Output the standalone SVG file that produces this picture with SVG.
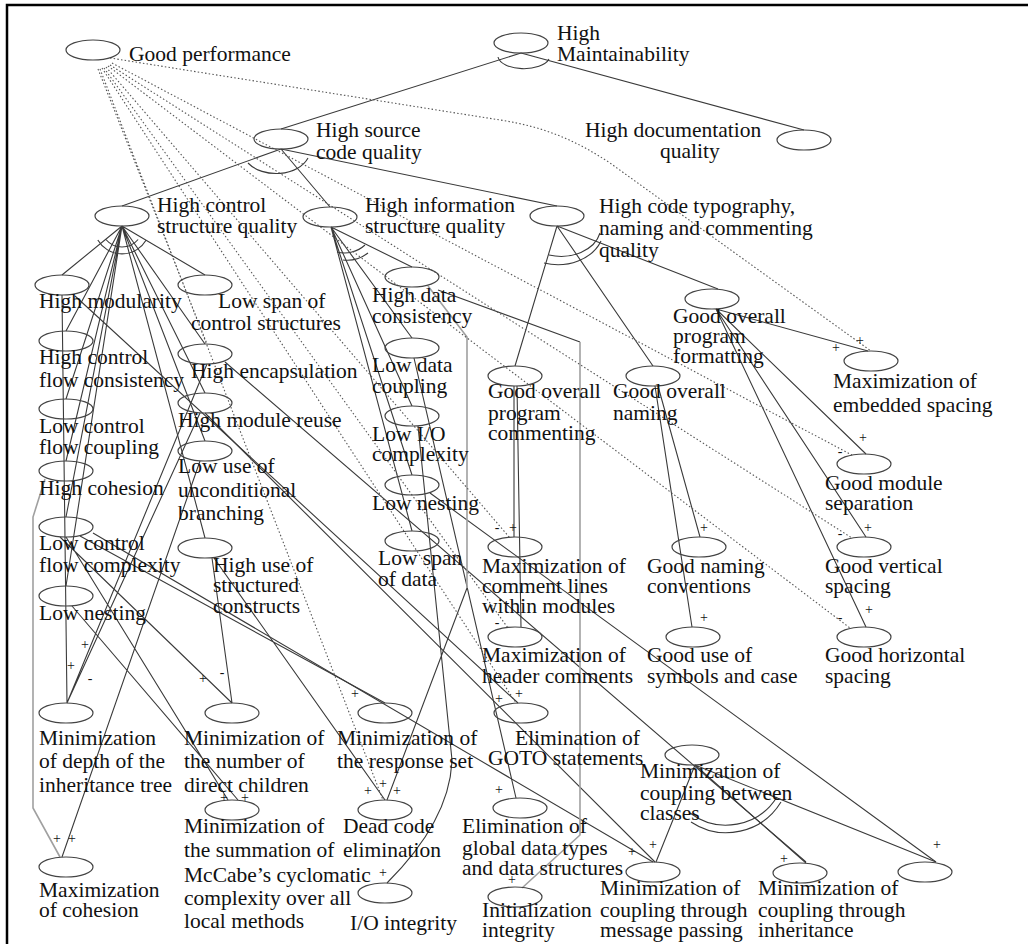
<svg xmlns="http://www.w3.org/2000/svg" width="1028" height="944" viewBox="0 0 1028 944">
<style>
.n ellipse{fill:none;stroke:#444;stroke-width:1.2}
text{font-family:"Liberation Serif","Times New Roman",serif;font-size:21.5px;fill:#111}
.s{font-size:14px;text-anchor:middle}
.e{stroke:#3a3a3a;stroke-width:1.1;fill:none}
.g{stroke:#a0a0a0;stroke-width:1.6;fill:none}
.d{stroke:#555;stroke-width:1.1;stroke-dasharray:1.5 2.2;fill:none}
</style>
<rect x="0" y="0" width="1028" height="944" fill="#fff"/>
<path d="M7,944 L7,5 L1028,5" fill="none" stroke="#000" stroke-width="2.5"/>
<g id="connectors">
<g class="e">
<path d="M521,53 L281,129 M521,53 L804,130 M281,149 L122,206 M281,149 L330,207 M281,149 L557,206"/>
<path d="M122,226 L62,275 M122,226 L205,275 M122,226 L66,331 M122,226 L205,344 M122,226 L66,399 M122,226 L205,393 M122,226 L66,461 M122,226 L205,441 M122,226 L66,517 M122,226 L205,538 M122,226 L66,586"/>
<path d="M331,227 L412,267 M331,227 L412,338 M331,227 L412,406 M331,227 L412,475 M331,227 L412,531"/>
<path d="M557,226 L515,366 M557,226 L653,366 M557,226 L718,289"/>
<path d="M716,309 L868,351 M716,309 L866,454 M716,309 L866,537 M716,309 L866,627"/>
<path d="M514,386 L514,537 M517,386 L521,627 M658,386 L700,537 M655,386 L692,627"/>
<path d="M695,765 L656,862 M695,765 L806,863 M695,765 L936,862"/>
<path d="M498,57 A26 13 0 0 0 549,59"/>
<path d="M248,163 A34 24 0 0 0 308,158"/>
<path d="M105.9,239.5 A21 21 0 0 0 138.1,239.5 M97.8,240 A28 28 0 0 0 146.2,240"/>
<path d="M337,252 A30 30 0 0 0 365,245 M343,260 A34 34 0 0 0 368,253"/>
<path d="M549,255 A40 30 0 0 0 600,233 M544,263 A46 36 0 0 0 601,241"/>
<path d="M690,813 A60 60 0 0 0 777,797 M691,822 A64 64 0 0 0 781,802"/>
<path d="M62,295 L67,703 M207,364 L67,703 M200,413 L67,703 M60,537 L232,703 M212,558 L232,703 M80,536 L385,703 M66,537 L228,800 M72,606 L238,800 M214,558 L385,800 M75,296 L518,703 M200,461 L62,857"/>
<path d="M467,588 L387,800 M418,426 L452,760 Q450,820 387,883 M414,358 L516,798 M438,290 L580,342"/>
<path d="M225,362 L806,862 M205,413 L655,862 M93,533 L653,862 M430,493 L936,862"/>
</g>
<g class="g">
<path d="M45,479 L33,517 L33,808 L60,857"/>
<path d="M428,286 L467,337 L467,588"/>
<path d="M580,342 L580,835 L522,888"/>
</g>
<g class="d">
<path d="M110,58 L500,120 C545,127 575,140 610,163 L871,351"/>
<path d="M112,63 L852,455 M110,65 L852,538 M108,66 L850,628 M106,67 L510,538 M104,68 L508,628 M102,68 L516,703 M100,69 L383,800 M98,69 L207,344"/>
</g>
<g id="signs">
<text class="s" x="836" y="352">+</text><text class="s" x="860" y="345">+</text>
<text class="s" x="840" y="456">-</text><text class="s" x="863" y="442">+</text>
<text class="s" x="840" y="538">-</text><text class="s" x="868" y="532">+</text>
<text class="s" x="840" y="622">-</text><text class="s" x="869" y="614">+</text>
<text class="s" x="497" y="532">-</text><text class="s" x="513" y="532">+</text>
<text class="s" x="704" y="532">+</text>
<text class="s" x="704" y="622">+</text>
<text class="s" x="497" y="627">-</text>
<text class="s" x="499" y="703">+</text><text class="s" x="519" y="698">+</text>
<text class="s" x="499" y="794">+</text>
<text class="s" x="512" y="884">+</text>
<text class="s" x="653" y="849">+</text><text class="s" x="632" y="856">+</text>
<text class="s" x="784" y="863">+</text>
<text class="s" x="937" y="849">+</text>
<text class="s" x="85" y="649">+</text><text class="s" x="71" y="670">+</text><text class="s" x="90" y="683">-</text>
<text class="s" x="203" y="683">+</text><text class="s" x="222" y="677">-</text>
<text class="s" x="355" y="698">+</text>
<text class="s" x="224" y="802">+</text><text class="s" x="245" y="802">+</text>
<text class="s" x="368" y="795">+</text><text class="s" x="383" y="788">+</text><text class="s" x="397" y="795">+</text>
<text class="s" x="57" y="843">+</text><text class="s" x="72" y="843">+</text>
<text class="s" x="383" y="877">+</text>
</g>
</g>
<g class="n">
<g id="good-performance"><ellipse cx="93" cy="50" rx="27" ry="10"/><text x="129" y="61">Good performance</text></g>
<g id="high-maintainability"><ellipse cx="521" cy="43" rx="27" ry="10"/><text x="557" y="40">High</text><text x="557" y="61">Maintainability</text></g>
<g id="high-source-code-quality"><ellipse cx="281" cy="139" rx="27" ry="10"/><text x="316" y="137">High source</text><text x="316" y="159">code quality</text></g>
<g id="high-documentation-quality"><ellipse cx="804" cy="140" rx="27" ry="10"/><text x="585" y="137">High documentation</text><text x="660" y="158">quality</text></g>
<g id="high-control-structure-quality"><ellipse cx="122" cy="216" rx="27" ry="10"/><text x="157" y="212">High control</text><text x="157" y="233">structure quality</text></g>
<g id="high-information-structure-quality"><ellipse cx="330" cy="217" rx="27" ry="10"/><text x="365" y="212">High information</text><text x="365" y="233">structure quality</text></g>
<g id="high-code-typography"><ellipse cx="557" cy="216" rx="27" ry="10"/><text x="599" y="213">High code typography,</text><text x="599" y="235">naming and commenting</text><text x="599" y="257">quality</text></g>
<g id="high-modularity"><ellipse cx="62" cy="285" rx="27" ry="10"/><text x="39" y="308">High modularity</text></g>
<g id="low-span-control"><ellipse cx="205" cy="285" rx="27" ry="10"/><text x="218" y="308">Low span of</text><text x="191" y="330">control structures</text></g>
<g id="high-control-flow-consistency"><ellipse cx="66" cy="341" rx="27" ry="10"/><text x="39" y="364">High control</text><text x="39" y="387">flow consistency</text></g>
<g id="high-encapsulation"><ellipse cx="205" cy="354" rx="27" ry="10"/><text x="191" y="378">High encapsulation</text></g>
<g id="low-control-flow-coupling"><ellipse cx="66" cy="409" rx="27" ry="10"/><text x="39" y="433">Low control</text><text x="39" y="454">flow coupling</text></g>
<g id="high-module-reuse"><ellipse cx="205" cy="403" rx="27" ry="10"/><text x="178" y="427">High module reuse</text></g>
<g id="high-cohesion"><ellipse cx="66" cy="471" rx="27" ry="10"/><text x="39" y="495">High cohesion</text></g>
<g id="low-unconditional-branching"><ellipse cx="205" cy="451" rx="27" ry="10"/><text x="178" y="473">Low use of</text><text x="178" y="497">unconditional</text><text x="178" y="520">branching</text></g>
<g id="low-control-flow-complexity"><ellipse cx="66" cy="527" rx="27" ry="10"/><text x="39" y="550">Low control</text><text x="39" y="572">flow complexity</text></g>
<g id="high-structured-constructs"><ellipse cx="205" cy="548" rx="27" ry="10"/><text x="213" y="572">High use of</text><text x="213" y="592">structured</text><text x="213" y="613">constructs</text></g>
<g id="low-nesting-control"><ellipse cx="66" cy="596" rx="27" ry="10"/><text x="39" y="620">Low nesting</text></g>
<g id="high-data-consistency"><ellipse cx="412" cy="277" rx="27" ry="10"/><text x="372" y="302">High data</text><text x="372" y="323">consistency</text></g>
<g id="low-data-coupling"><ellipse cx="412" cy="348" rx="27" ry="10"/><text x="372" y="372">Low data</text><text x="372" y="393">coupling</text></g>
<g id="low-io-complexity"><ellipse cx="412" cy="416" rx="27" ry="10"/><text x="372" y="441">Low I/O</text><text x="372" y="461">complexity</text></g>
<g id="low-nesting-info"><ellipse cx="412" cy="485" rx="27" ry="10"/><text x="372" y="510">Low nesting</text></g>
<g id="low-span-data"><ellipse cx="412" cy="541" rx="27" ry="10"/><text x="378" y="565">Low span</text><text x="378" y="586">of data</text></g>
<g id="good-program-formatting"><ellipse cx="712" cy="299" rx="27" ry="10"/><text x="673" y="323">Good overall</text><text x="673" y="343">program</text><text x="673" y="363">formatting</text></g>
<g id="good-program-commenting"><ellipse cx="515" cy="376" rx="27" ry="10"/><text x="488" y="398">Good overall</text><text x="488" y="420">program</text><text x="488" y="440">commenting</text></g>
<g id="good-overall-naming"><ellipse cx="653" cy="376" rx="27" ry="10"/><text x="613" y="398">Good overall</text><text x="613" y="420">naming</text></g>
<g id="max-embedded-spacing"><ellipse cx="871" cy="361" rx="27" ry="10"/><text x="833" y="388">Maximization of</text><text x="833" y="412">embedded spacing</text></g>
<g id="good-module-separation"><ellipse cx="864" cy="464" rx="27" ry="10"/><text x="825" y="490">Good module</text><text x="825" y="510">separation</text></g>
<g id="good-vertical-spacing"><ellipse cx="864" cy="547" rx="27" ry="10"/><text x="825" y="573">Good vertical</text><text x="825" y="593">spacing</text></g>
<g id="max-comment-lines"><ellipse cx="515" cy="547" rx="27" ry="10"/><text x="482" y="573">Maximization of</text><text x="482" y="593">comment lines</text><text x="482" y="613">within modules</text></g>
<g id="good-naming-conventions"><ellipse cx="699" cy="547" rx="27" ry="10"/><text x="647" y="573">Good naming</text><text x="647" y="593">conventions</text></g>
<g id="good-symbols-case"><ellipse cx="693" cy="637" rx="27" ry="10"/><text x="647" y="662">Good use of</text><text x="647" y="683">symbols and case</text></g>
<g id="good-horizontal-spacing"><ellipse cx="864" cy="637" rx="27" ry="10"/><text x="825" y="662">Good horizontal</text><text x="825" y="683">spacing</text></g>
<g id="max-header-comments"><ellipse cx="515" cy="637" rx="27" ry="10"/><text x="482" y="662">Maximization of</text><text x="482" y="683">header comments</text></g>
<g id="elim-goto"><ellipse cx="521" cy="713" rx="27" ry="10"/><text x="515" y="745">Elimination of</text><text x="488" y="765">GOTO statements</text></g>
<g id="min-coupling-classes"><ellipse cx="692" cy="755" rx="27" ry="10"/><text x="640" y="778">Minimization of</text><text x="640" y="800">coupling between</text><text x="640" y="820">classes</text></g>
<g id="min-depth-inheritance"><ellipse cx="66" cy="713" rx="27" ry="10"/><text x="39" y="745">Minimization</text><text x="39" y="768">of depth of the</text><text x="39" y="792">inheritance tree</text></g>
<g id="min-direct-children"><ellipse cx="232" cy="713" rx="27" ry="10"/><text x="184" y="745">Minimization of</text><text x="184" y="768">the number of</text><text x="184" y="792">direct children</text></g>
<g id="min-response-set"><ellipse cx="385" cy="713" rx="27" ry="10"/><text x="337" y="745">Minimization of</text><text x="337" y="768">the response set</text></g>
<g id="min-mccabe"><ellipse cx="232" cy="810" rx="27" ry="10"/><text x="184" y="833">Minimization of</text><text x="184" y="857">the summation of</text><text x="184" y="882">McCabe’s cyclomatic</text><text x="184" y="905">complexity over all</text><text x="184" y="928">local methods</text></g>
<g id="dead-code"><ellipse cx="385" cy="810" rx="27" ry="10"/><text x="343" y="833">Dead code</text><text x="343" y="857">elimination</text></g>
<g id="max-cohesion"><ellipse cx="66" cy="867" rx="27" ry="10"/><text x="39" y="897">Maximization</text><text x="39" y="917">of cohesion</text></g>
<g id="io-integrity"><ellipse cx="385" cy="893" rx="27" ry="10"/><text x="350" y="930">I/O integrity</text></g>
<g id="elim-global-data"><ellipse cx="520" cy="808" rx="27" ry="10"/><text x="462" y="833">Elimination of</text><text x="462" y="855">global data types</text><text x="462" y="875">and data structures</text></g>
<g id="init-integrity"><ellipse cx="515" cy="897" rx="27" ry="10"/><text x="482" y="917">Initialization</text><text x="482" y="937">integrity</text></g>
<g id="min-coupling-message"><ellipse cx="653" cy="872" rx="27" ry="10"/><text x="600" y="895">Minimization of</text><text x="600" y="917">coupling through</text><text x="600" y="937">message passing</text></g>
<g id="min-coupling-inheritance"><ellipse cx="800" cy="873" rx="27" ry="10"/><text x="758" y="895">Minimization of</text><text x="758" y="917">coupling through</text><text x="758" y="937">inheritance</text></g>
<g id="unnamed"><ellipse cx="925" cy="872" rx="27" ry="10"/></g>
</g>
</svg>
